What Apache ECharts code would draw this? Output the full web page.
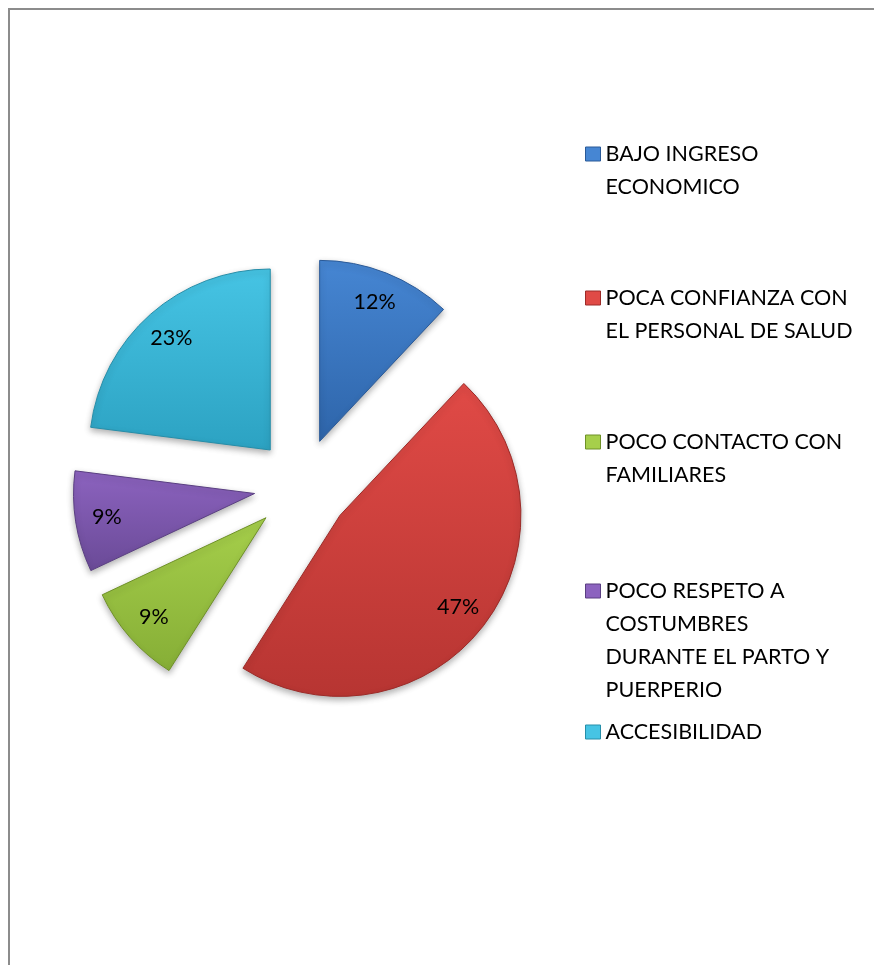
<!DOCTYPE html>
<html>
<head>
<meta charset="utf-8">
<script src="https://cdn.jsdelivr.net/npm/echarts@6/dist/echarts.min.js"></script>
<style>
html, body { margin: 0; padding: 0; background: #fff; }
#chart { width: 874px; height: 965px; }
</style>
</head>
<body>
<div id="chart"></div>
<script>
// categorias (con salto de linea como en la leyenda original)
const categories = [
    'BAJO INGRESO\nECONOMICO',
    'POCA CONFIANZA CON\nEL PERSONAL DE SALUD',
    'POCO CONTACTO CON\nFAMILIARES',
    'POCO RESPETO A\nCOSTUMBRES\nDURANTE EL PARTO Y\nPUERPERIO',
    'ACCESIBILIDAD'
];
const values = [12, 47, 9, 9, 23];

// colores tipo Office 2007 (claro arriba, oscuro abajo)
const topColors = ['#4686d3', '#e04a46', '#a6cf4b', '#8c63bf', '#46c4e4'];
const bottomColors = ['#2e65aa', '#b73532', '#86ae36', '#6a4a97', '#2ca2c2'];
const borderColors = ['#2a5a98', '#9c2b28', '#6f9128', '#5a3f82', '#268ea9'];

// centro de la primera linea de cada item de la leyenda
const legendLineCenters = [154, 298, 442, 591, 732];
const lineH = 33;
const fontFam = 'Lato';
const fontSize = 21.5;

const center = [302, 486];
const radius = 181;
const explode = 48;

const pieData = categories.map(function (name, i) {
    return {
        name: name,
        value: values[i],
        selected: true,
        itemStyle: {
            color: new echarts.graphic.LinearGradient(0, 0, 0, 1, [
                { offset: 0, color: topColors[i] },
                { offset: 1, color: bottomColors[i] }
            ]),
            borderColor: borderColors[i],
            borderWidth: 1
        }
    };
});

const labelData = categories.map(function (name, i) {
    return { name: name, value: values[i], selected: true };
});

// una leyenda por item, el icono alineado con la primera linea
const legends = categories.map(function (name, i) {
    const n = name.split('\n').length;
    return {
        data: [{ name: name, itemStyle: { color: topColors[i], borderColor: borderColors[i], borderWidth: 1 } }],
        orient: 'vertical',
        left: 585,
        top: legendLineCenters[i] - (2 * n - 1) * lineH / 2,
        padding: 0,
        itemWidth: 15,
        itemHeight: 14,
        itemGap: 0,
        icon: 'rect',
        selectedMode: false,
        formatter: function (nm) {
            return '\n'.repeat(n - 1) + nm;
        },
        textStyle: {
            fontFamily: fontFam,
            fontSize: fontSize,
            color: '#000',
            lineHeight: lineH
        }
    };
});

const chart = echarts.init(document.getElementById('chart'), null, { renderer: 'canvas' });
chart.setOption({
    backgroundColor: '#fff',
    animation: false,
    legend: legends,
    graphic: [{
        type: 'rect',
        shape: { x: 9, y: 9, width: 1000, height: 1100 },
        style: { fill: 'none', stroke: '#8c8c8c', lineWidth: 2 },
        silent: true
    }],
    series: [
        {
            type: 'pie',
            center: center,
            radius: radius,
            startAngle: 90,
            clockwise: true,
            selectedMode: 'multiple',
            selectedOffset: explode,
            label: { show: false },
            labelLine: { show: false },
            itemStyle: {
                shadowBlur: 6,
                shadowOffsetY: 3,
                shadowColor: 'rgba(0,0,0,0.3)'
            },
            emphasis: { disabled: true },
            data: pieData
        },
        {
            type: 'pie',
            center: center,
            radius: [112, radius],
            startAngle: 90,
            clockwise: true,
            selectedMode: 'multiple',
            selectedOffset: explode,
            silent: true,
            itemStyle: { color: 'rgba(0,0,0,0)' },
            label: {
                show: true,
                position: 'inside',
                formatter: '{c}%',
                fontFamily: fontFam,
                fontSize: fontSize,
                color: '#000'
            },
            labelLine: { show: false },
            emphasis: { disabled: true },
            data: labelData
        }
    ]
});
</script>
</body>
</html>
